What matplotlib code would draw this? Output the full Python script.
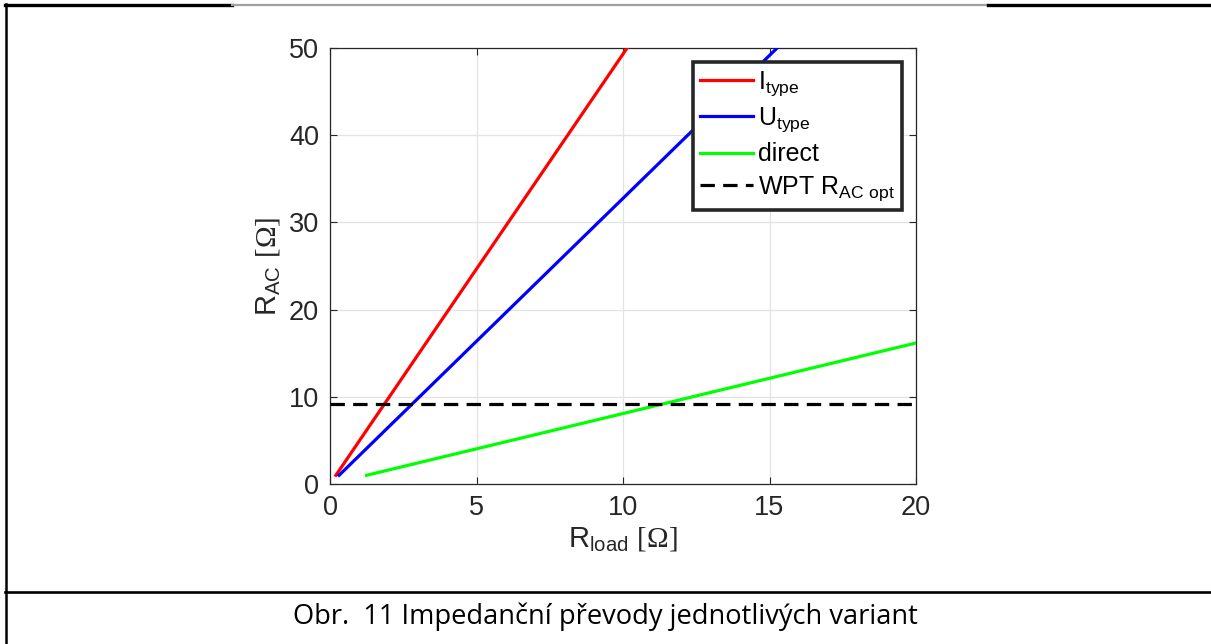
import matplotlib
matplotlib.use("Agg")
import matplotlib.pyplot as plt
from matplotlib.lines import Line2D

plt.rcParams['font.family'] = ['Liberation Sans', 'DejaVu Sans']
plt.rcParams['mathtext.fontset'] = 'custom'
plt.rcParams['mathtext.rm'] = 'Liberation Serif'
plt.rcParams['mathtext.sf'] = 'Liberation Sans'

# load resistance vs. AC resistance seen by the WPT link
r_load_i = [0.20, 10.14]
r_ac_i = [1.0, 50.0]
r_load_u = [0.31, 15.26]
r_ac_u = [1.0, 50.0]
r_load_direct = [1.25, 20.0]
r_ac_direct = [1.0, 16.17]
r_load_opt = [0.0, 20.0]
r_ac_opt = [9.2, 9.2]

x_ticks = [0, 5, 10, 15, 20]
y_ticks = [0, 10, 20, 30, 40, 50]
caption = "Obr.  11 Impedanční převody jednotlivých variant"

W, H = 1211, 644
fig = plt.figure(figsize=(W / 100, H / 100), dpi=100)
ax = fig.add_axes([330 / W, 1 - 484 / H, 586 / W, 436 / H])

lw = 2.3
ax.plot(r_load_i, r_ac_i, color='#ff0000', lw=lw, label=r'I$_{\mathsf{type}}$', zorder=3)
ax.plot(r_load_u, r_ac_u, color='#0000ff', lw=lw, label=r'U$_{\mathsf{type}}$', zorder=3)
ax.plot(r_load_direct, r_ac_direct, color='#00ff00', lw=lw, label='direct', zorder=3)
ax.plot(r_load_opt, r_ac_opt, color='black', lw=lw, ls=(0, (4.5, 2.6)),
        label=r'WPT R$_{\mathsf{AC\ opt}}$', zorder=3)

ax.set_xlim(0, 20)
ax.set_ylim(0, 50)
ax.set_xticks(x_ticks)
ax.set_yticks(y_ticks)
ax.grid(True, color='#e3e3e3', lw=0.9)
ax.set_axisbelow(True)
ax.tick_params(direction='in', length=5, width=0.8, labelsize=19.5, colors='#262626',
               top=True, right=True, pad=8)
for s in ax.spines.values():
    s.set_color('#262626')
    s.set_linewidth(0.9)

ax.set_xlabel(r'R$_{\mathsf{load}}$ $[\Omega]$', fontsize=21, color='#262626', labelpad=3)
ax.set_ylabel(r'R$_{\mathsf{AC}}$ $[\Omega]$', fontsize=21, color='#262626', labelpad=4)

leg = ax.legend(loc='upper right', bbox_to_anchor=(0.976, 0.968), borderaxespad=0,
                fontsize=18, frameon=True, fancybox=False, framealpha=1,
                handlelength=2.1, handletextpad=0.2, borderpad=0.28, labelspacing=0.32)
leg.get_frame().set_edgecolor('#262626')
leg.get_frame().set_linewidth(2.6)

# document frame around the figure and the caption row
def hline(y, x0, x1, color='black', width=2.4):
    fig.add_artist(Line2D([x0 / W, x1 / W], [1 - y / H, 1 - y / H],
                          transform=fig.transFigure, color=color, lw=width))

fig.add_artist(Line2D([6 / W, 6 / W], [0, 1 - 4 / H], transform=fig.transFigure,
                      color='black', lw=1.8))
hline(5, 5, 232)
hline(5, 232, 988, color='#a0a0a0', width=1.6)
hline(5, 988, W)
hline(592, 5, W, width=1.9)

fig.text(605 / W, 1 - 617 / H, caption, ha='center', va='center',
         fontsize=19.6, family=['Open Sans', 'DejaVu Sans'], color='black')

fig.savefig('out.png', dpi=100)
